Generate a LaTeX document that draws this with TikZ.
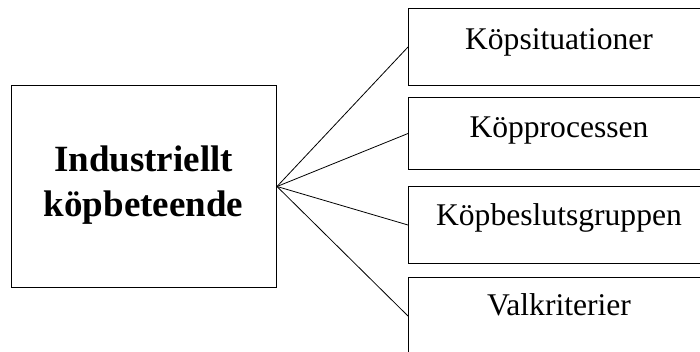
\documentclass[tikz,border=0pt]{standalone}
\usepackage{fontspec}
\setmainfont{Liberation Serif}
\begin{document}
\begin{tikzpicture}[x=1pt,y=-1pt,
  box/.style={draw=black,line width=1pt,inner sep=0pt,anchor=north west},
  lbl/.style={inner sep=0pt,anchor=base,font=\fontsize{31.6}{38}\selectfont},
  conn/.style={draw=black,line width=0.8pt}]
\useasboundingbox (0,0) rectangle (700,351);
\clip (0,0) rectangle (700,351);
\node[box,minimum width=265pt,minimum height=202pt] (main) at (11,85) {};
\node[inner sep=0pt,align=center,font=\bfseries\fontsize{37}{45}\selectfont] (maintext) at (143.5,185) {Industriellt\\köpbeteende};
\node[box,minimum width=302pt,minimum height=77pt] (b1) at (408,8) {};
\node[box,minimum width=302pt,minimum height=72pt] (b2) at (408,97) {};
\node[box,minimum width=302pt,minimum height=77pt] (b3) at (408,186) {};
\node[box,minimum width=302pt,minimum height=77pt] (b4) at (408,277) {};
\node[lbl] (t1) at (559,49) {Köpsituationer};
\node[lbl] (t2) at (559,137) {Köpprocessen};
\node[lbl] (t3) at (559,225) {Köpbeslutsgruppen};
\node[lbl] (t4) at (559,315) {Valkriterier};
\draw[conn] (main.east) -- (b1.west);
\draw[conn] (main.east) -- (b2.west);
\draw[conn] (main.east) -- (b3.west);
\draw[conn] (main.east) -- (b4.west);
\end{tikzpicture}
\end{document}
